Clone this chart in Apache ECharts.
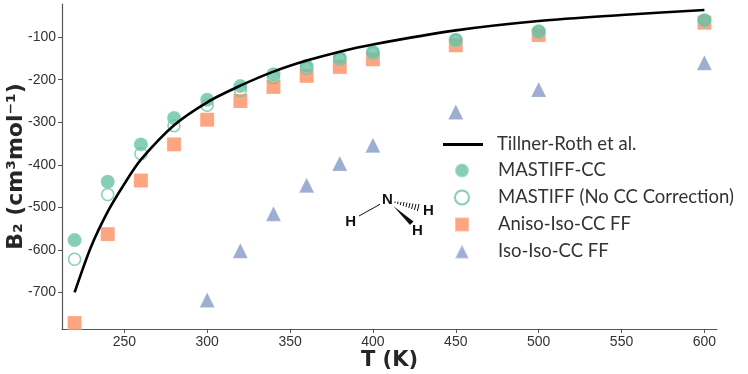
<!DOCTYPE html>
<html>
<head>
<meta charset="utf-8">
<style>html,body{margin:0;padding:0;background:#fff}#c{width:748px;height:374px}</style>
<script src="https://cdn.jsdelivr.net/npm/echarts@6/dist/echarts.min.js"></script>
</head>
<body>
<div id="c"></div>
<script>
const temps = [220,240,260,280,300,320,340,360,380,400,450,500,600];
const mastiffCC = [-577,-440,-352,-290,-247,-215,-187,-168,-148,-135,-106,-86,-60];
const mastiffNoCC = [-622,-470,-374,-308,-260,-225,-195,-173,-152,-138,-108,-88,-61];
const anisoIso = [-772,-563,-437,-352,-294,-250,-217,-191,-170,-152,-119,-95,-66];
const isoTemps = [300,320,340,360,380,400,450,500,600];
const isoIso = [-718,-602,-515,-448,-397,-354,-276,-223,-160];
const refTemps = [220,230,240,250,260,280,300,320,340,360,380,400,450,500,550,600];
const refValues = [-700,-592,-510,-445,-388,-307,-253,-214,-181,-155,-134,-117,-84,-62,-48,-36];
const xTicks = [250,300,350,400,450,500,550,600];
const yTicks = [-700,-600,-500,-400,-300,-200,-100];
const names = ['Tillner-Roth et al.','MASTIFF-CC','MASTIFF (No CC Correction)','Aniso-Iso-CC FF','Iso-Iso-CC FF'];
const zip = (a,b) => a.map((v,i) => [v,b[i]]);

const axisCol = '#555555', textCol = '#333333';
const chart = echarts.init(document.getElementById('c'), null, {renderer:'canvas'});

const hash = [];
const hashLines = [[395,201.5,395,203],[398,201.5,397.6,204],[401,202,400.4,205],[404,202,403.2,206],[407,202.5,406,207],[410,203,408.8,208],[413,203.5,411.6,209],[416,204,414.4,210],[419,204,417.4,211]];
hashLines.forEach(l => hash.push({type:'line',shape:{x1:l[0],y1:l[1],x2:l[2],y2:l[3]},style:{stroke:'#111',lineWidth:1}}));
const atom = (t,x,y) => ({type:'text',x:x,y:y,style:{text:t,font:'bold 15px "Liberation Sans"',fill:'#111',align:'center',verticalAlign:'middle'}});

chart.setOption({
  animation:false,
  backgroundColor:'#fff',
  grid:{left:62,right:31,top:4,bottom:45,containLabel:false,outerBoundsMode:'none'},
  xAxis:{type:'value',min:212.4,max:607.6,
    name:'T (K)',nameLocation:'middle',nameGap:21,nameMoveOverlap:false,
    nameTextStyle:{fontFamily:'DejaVu Sans',fontWeight:'bold',fontSize:21,color:'#262626'},
    axisLine:{onZero:false,lineStyle:{color:axisCol,width:1.2}},
    axisTick:{customValues:xTicks,length:4,lineStyle:{color:axisCol,width:1}},
    axisLabel:{customValues:xTicks,fontFamily:'Liberation Sans',fontSize:14,color:textCol,margin:6},
    splitLine:{show:false}},
  yAxis:{type:'value',min:-786,max:-22,
    name:'B\u2082 (cm\u00b3mol\u207b\u00b9)',nameLocation:'middle',nameGap:35,nameRotate:90,nameMoveOverlap:false,
    nameTextStyle:{fontFamily:'DejaVu Sans',fontWeight:'bold',fontSize:22,color:'#262626'},
    axisLine:{onZero:false,lineStyle:{color:axisCol,width:1.2}},
    axisTick:{customValues:yTicks,length:4,lineStyle:{color:axisCol,width:1}},
    axisLabel:{customValues:yTicks,fontFamily:'Liberation Sans',fontSize:14,color:textCol,margin:6},
    splitLine:{show:false}},
  legend:[
    {left:438,top:130,orient:'vertical',icon:'rect',itemWidth:40,itemHeight:3,data:[names[0]],
      textStyle:{fontFamily:'Lato',fontSize:18.5,color:textCol,padding:[0,0,0,9]}},
    {left:449,top:156,orient:'vertical',itemWidth:14,itemHeight:14,itemGap:8,data:names.slice(1),
      textStyle:{fontFamily:'Lato',fontSize:18.5,color:textCol,padding:[0,0,0,24]}}
  ],
  series:[
    {name:names[0],type:'line',data:zip(refTemps,refValues),smooth:0.3,showSymbol:false,symbol:'none',z:10,
      lineStyle:{color:'#000',width:2.6},itemStyle:{color:'#000'}},
    {name:names[1],type:'scatter',data:zip(temps,mastiffCC),symbol:'circle',symbolSize:14,z:6,
      itemStyle:{color:'rgba(102,194,165,0.8)',borderColor:'rgba(255,255,255,0.3)',borderWidth:0.5,opacity:1}},
    {name:names[2],type:'scatter',data:zip(temps,mastiffNoCC),symbol:'circle',symbolSize:12,z:5,
      itemStyle:{color:'rgba(255,255,255,0)',borderColor:'rgba(102,194,165,0.8)',borderWidth:1.5,opacity:1}},
    {name:names[3],type:'scatter',data:zip(temps,anisoIso),symbol:'rect',symbolSize:14,z:4,clip:false,
      itemStyle:{color:'rgba(252,141,98,0.8)',borderColor:'rgba(255,255,255,0.3)',borderWidth:0.5,opacity:1}},
    {name:names[4],type:'scatter',data:zip(isoTemps,isoIso),symbol:'triangle',symbolSize:15,z:4,
      itemStyle:{color:'rgba(141,160,203,0.85)',borderColor:'rgba(255,255,255,0.3)',borderWidth:0.5,opacity:1}}
  ],
  graphic:{elements:[
    atom('N',387.5,200), atom('H',350.7,221.7), atom('H',428.3,211), atom('H',417.5,230.5),
    {type:'line',shape:{x1:380,y1:204.3,x2:359,y2:216},style:{stroke:'#111',lineWidth:1}},
    {type:'polygon',shape:{points:[[393.3,206],[413.5,221.5],[410,225]]},style:{fill:'#111'}}
  ].concat(hash)}
});
</script>
</body>
</html>
